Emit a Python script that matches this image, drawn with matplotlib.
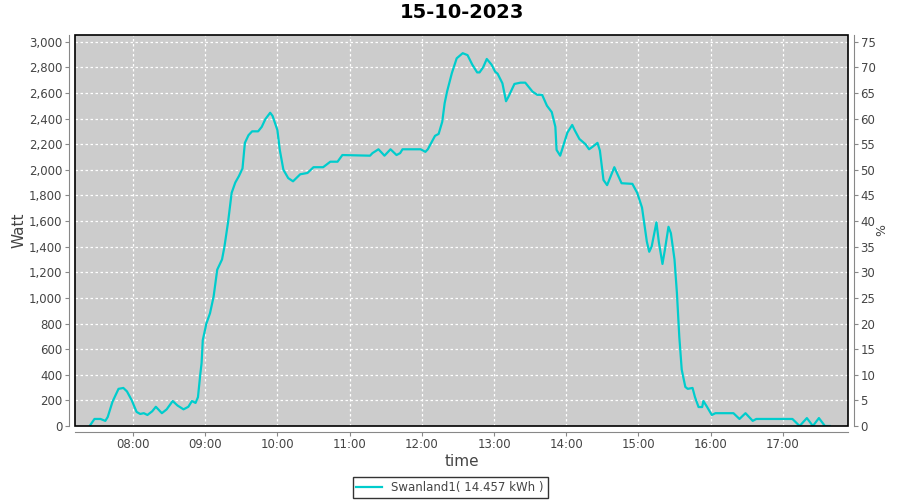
import matplotlib
matplotlib.use("Agg")
import matplotlib.pyplot as plt
from matplotlib.ticker import FuncFormatter, MultipleLocator
from matplotlib.patches import Rectangle

# data: time of day and power (W)
times = ["07:24", "07:28", "07:33", "07:37", "07:39", "07:43", "07:48", "07:52", "07:55", "07:59",
         "08:03", "08:06", "08:09", "08:12", "08:16", "08:19", "08:24", "08:28", "08:33", "08:37",
         "08:42", "08:46", "08:49", "08:52", "08:54", "08:56", "08:57", "08:58", "09:01", "09:04",
         "09:07", "09:10", "09:14", "09:16", "09:19", "09:22", "09:25", "09:28", "09:31", "09:33",
         "09:36", "09:39", "09:44", "09:47", "09:50", "09:54", "09:56", "10:00", "10:02", "10:05",
         "10:09", "10:13", "10:19", "10:25", "10:30", "10:38", "10:44", "10:50", "10:54", "11:17",
         "11:19", "11:24", "11:29", "11:34", "11:39", "11:42", "11:44", "11:59", "12:03", "12:05",
         "12:09", "12:11", "12:14", "12:17", "12:19", "12:21", "12:25", "12:29", "12:34", "12:38",
         "12:42", "12:46", "12:48", "12:51", "12:54", "12:58", "13:01", "13:03", "13:07", "13:10",
         "13:12", "13:17", "13:22", "13:26", "13:32", "13:36", "13:40", "13:44", "13:48", "13:51",
         "13:52", "13:55", "13:57", "14:01", "14:05", "14:07", "14:11", "14:16", "14:19", "14:22",
         "14:26", "14:28", "14:31", "14:34", "14:40", "14:46", "14:55", "14:59", "15:03", "15:07",
         "15:09", "15:11", "15:15", "15:17", "15:20", "15:22", "15:25", "15:27", "15:30", "15:32",
         "15:34", "15:36", "15:39", "15:41", "15:45", "15:47", "15:50", "15:53", "15:54", "15:57",
         "16:01", "16:04", "16:19", "16:24", "16:29", "16:35", "16:38", "17:08", "17:14", "17:20",
         "17:25", "17:30", "17:35", "17:39"]
watts = [0, 55, 55, 40, 70, 190, 290, 297, 270, 200,
         110, 94, 100, 86, 115, 150, 100, 130, 195, 160,
         130, 150, 195, 180, 225, 410, 490, 670, 800, 880,
         1010, 1220, 1300, 1400, 1590, 1820, 1900, 1950, 2010, 2210,
         2270, 2300, 2300, 2335, 2395, 2445, 2420, 2310, 2155, 2000,
         1935, 1910, 1965, 1975, 2020, 2020, 2063, 2063, 2115, 2110,
         2130, 2160, 2110, 2160, 2115, 2130, 2160, 2160, 2140, 2160,
         2230, 2265, 2280, 2375, 2520, 2610, 2755, 2870, 2910, 2895,
         2820, 2760, 2760, 2800, 2865, 2820, 2765, 2750, 2675, 2535,
         2570, 2670, 2680, 2680, 2610, 2585, 2585, 2500, 2450, 2335,
         2155, 2110, 2170, 2290, 2350, 2310, 2240, 2200, 2160, 2180,
         2210, 2150, 1920, 1880, 2020, 1895, 1890, 1820, 1705, 1440,
         1360, 1400, 1590, 1435, 1265, 1375, 1555, 1505, 1300, 1040,
         695, 440, 305, 290, 297, 226, 148, 148, 195, 150,
         86, 100, 100, 55, 100, 40, 55, 55, 0, 62,
         0, 62, 0, 0]
hour_ticks = [8, 9, 10, 11, 12, 13, 14, 15, 16, 17]
title = "15-10-2023"
label = "Swanland1( 14.457 kWh )"

hours = [int(t[:2]) + int(t[3:]) / 60 for t in times]

fig = plt.figure(figsize=(9, 5), dpi=100)
ax = fig.add_axes([75 / 900, 74 / 500, 773 / 900, 391 / 500])
ax.set_facecolor("#cccccc")

ax.plot(hours, watts, color="#00cccc", lw=1.6, label=label)

ymax = 3052
ax.set_xlim(7.197, 17.903)
ax.set_ylim(0, ymax)
ax.set_xticks(hour_ticks)
ax.xaxis.set_major_formatter(FuncFormatter(lambda v, p: "%02d:00" % round(v)))
ax.yaxis.set_major_locator(MultipleLocator(200))
ax.yaxis.set_major_formatter(FuncFormatter(lambda v, p: "{:,.0f}".format(v)))
ax.grid(True, color="white", ls=(0, (2, 2)), lw=0.9)
ax.set_axisbelow(True)

ax2 = ax.twinx()
ax2.set_ylim(0, ymax / 40)
ax2.yaxis.set_major_locator(MultipleLocator(5))

gray = "#888888"
for a in (ax, ax2):
    for s in a.spines.values():
        s.set_visible(False)
    a.tick_params(colors=gray, labelcolor="#444444", labelsize=8.5, length=3, width=0.8, pad=2)
for side, a in (("left", ax), ("bottom", ax), ("right", ax2)):
    a.spines[side].set_visible(True)
    a.spines[side].set_color(gray)
    a.spines[side].set_position(("outward", 4))
ax.add_patch(Rectangle((0, 0), 1, 1, transform=ax.transAxes, fill=False,
                       ec="black", lw=1.2, zorder=5, clip_on=False))

ax.set_ylabel("Watt", fontsize=11, color="#444444", labelpad=2)
ax2.set_ylabel("%", fontsize=9, color="#444444", labelpad=0)
ax.set_xlabel("time", fontsize=11, color="#444444", labelpad=2)
fig.suptitle(title, x=(75 + 848) / 1800, y=0.995, fontsize=14, fontweight="bold")

leg = fig.legend(loc="center", bbox_to_anchor=(0.5, 0.025), fontsize=8.5, frameon=True,
                 fancybox=False, handlelength=2.2, borderpad=0.3)
leg.get_frame().set_edgecolor("black")
leg.get_frame().set_linewidth(1)
for t in leg.get_texts():
    t.set_color("#444444")

fig.savefig("out.png", dpi=100)
